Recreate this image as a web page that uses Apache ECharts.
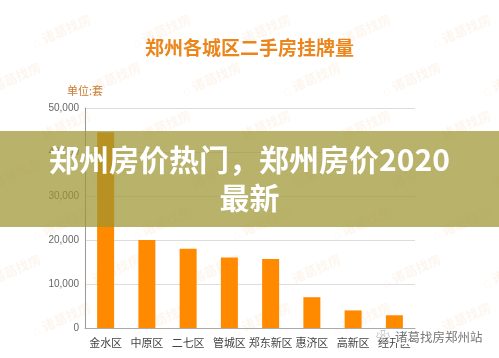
<!DOCTYPE html>
<html><head><meta charset="utf-8">
<script src="https://cdn.jsdelivr.net/npm/echarts@6/dist/echarts.min.js"></script>
<style>html,body{margin:0;padding:0;background:#fff}#c{width:499px;height:358px}</style>
</head><body><div id="c"></div>
<script>
const categories = ['金水区','中原区','二七区','管城区','郑东新区','惠济区','高新区','经开区'];
const listings = [44500, 20000, 18000, 16000, 15700, 7000, 4000, 2900];
const yTicks = [0, 10000, 20000, 30000, 40000, 50000];
const titleText = '郑州各城区二手房挂牌量';
const unitText = '单位:套';
const bannerLines = ['郑州房价热门，郑州房价2020', '最新'];
const footerText = '诸葛找房郑州站';

const chart = echarts.init(document.getElementById('c'), null, {renderer:'canvas'});
const font = '"Noto Sans CJK SC","Noto Sans",sans-serif';

// faint background watermark logos
const marks = [];
for (let r = 0; r < 8; r++) {
  for (let c = 0; c < 6; c++) {
    marks.push({
      type:'text', x: -20 + c*100 + (r%2)*50, y: -10 + r*48, rotation: 0.42, z: 0, silent:true,
      style:{text:'⌂ 诸葛找房', fill:'rgba(240,170,110,0.11)', font:'bold 13px '+font}
    });
  }
}

chart.setOption({
  backgroundColor:'#fff',
  animation:false,
  title:{text:titleText, left:'center', top:33, textStyle:{color:'#ea861c', fontSize:19, fontWeight:'bold', fontFamily:font}},
  grid:{left:85, right:84, top:108, bottom:30},
  xAxis:{type:'category', data:categories,
    axisLine:{lineStyle:{color:'#aaa', width:1}}, axisTick:{show:false},
    axisLabel:{color:'#444', fontSize:11, margin:9, fontFamily:font, interval:0}},
  yAxis:{type:'value', min:yTicks[0], max:yTicks[yTicks.length-1], interval:yTicks[1]-yTicks[0],
    name:unitText, nameLocation:'end', nameGap:12, nameTextStyle:{color:'#c87a30', fontSize:11, fontFamily:font, align:'center', padding:[0,0,0,0]},
    axisLine:{show:true, lineStyle:{color:'#999'}}, axisTick:{show:false},
    splitLine:{lineStyle:{color:'#ddd'}},
    axisLabel:{color:'#666', fontSize:10, margin:6, fontFamily:'"Liberation Sans",sans-serif',
      formatter:v=>v.toLocaleString('en-US')}},
  series:[{type:'bar', data:listings, barWidth:17, itemStyle:{color:'#ff8a00'}}],
  graphic:[
    ...marks,
    {type:'rect', z:100, shape:{x:0, y:131, width:499, height:96}, style:{fill:'rgba(156,148,48,0.72)'}},
    {type:'text', z:101, x:249.5, y:160, style:{text:bannerLines[0], fill:'#fff', font:'bold 30px '+font, textAlign:'center', textVerticalAlign:'middle'}},
    {type:'text', z:101, x:249.5, y:198, style:{text:bannerLines[1], fill:'#fff', font:'bold 30px '+font, textAlign:'center', textVerticalAlign:'middle'}},
    {type:'text', z:101, x:395, y:337, style:{text:footerText, fill:'#777', font:'12.5px '+font, textVerticalAlign:'middle', stroke:'#fff', lineWidth:3}},
    {type:'text', z:101, x:376, y:337, style:{text:'❀', fill:'#999', font:'14px '+font, textVerticalAlign:'middle'}}
  ]
});
</script></body></html>
